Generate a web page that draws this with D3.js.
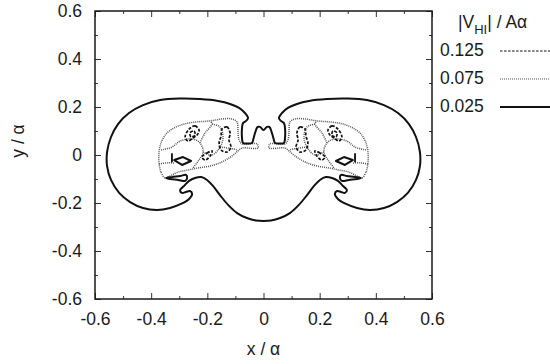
<!DOCTYPE html>
<html>
<head>
<meta charset="utf-8">
<script src="https://cdn.jsdelivr.net/npm/d3@7"></script>
<style>
body { margin: 0; background: #fff; }
svg { font-family: "Liberation Sans", Arial, sans-serif; }
</style>
</head>
<body>
<svg id="chart" width="550" height="364"></svg>
<script>
// axis ticks
var majorTicks = [-0.6, -0.4, -0.2, 0, 0.2, 0.4, 0.6];
var minorTicks = [-0.5, -0.3, -0.1, 0.1, 0.3, 0.5];

// legend levels |V_HI| / A alpha
var levelNames = ["0.125", "0.075", "0.025"];

// level 0.025 : outer contour (one closed curve round both lobes)
var outer025 = [
  [0, 0.104], [-0.0125, 0.117], [-0.021, 0.117], [-0.030, 0.092], [-0.037, 0.0625], [-0.041, 0.05],
  [-0.059, 0.048], [-0.073, 0.05], [-0.0765, 0.071], [-0.0765, 0.1125], [-0.073, 0.133], [-0.062, 0.142],
  [-0.055, 0.154], [-0.066, 0.175], [-0.087, 0.196], [-0.119, 0.2125], [-0.162, 0.225], [-0.226, 0.233],
  [-0.297, 0.235], [-0.368, 0.229], [-0.429, 0.208], [-0.479, 0.175], [-0.518, 0.129], [-0.543, 0.075],
  [-0.557, 0.0125], [-0.557, -0.046], [-0.543, -0.104], [-0.514, -0.158], [-0.475, -0.196], [-0.429, -0.221],
  [-0.379, -0.229], [-0.333, -0.221], [-0.294, -0.204], [-0.265, -0.183], [-0.254, -0.1625], [-0.262, -0.15],
  [-0.276, -0.154], [-0.290, -0.158], [-0.297, -0.146], [-0.283, -0.129], [-0.265, -0.108], [-0.244, -0.096],
  [-0.222, -0.092], [-0.201, -0.104], [-0.180, -0.129], [-0.155, -0.167], [-0.126, -0.208], [-0.094, -0.242],
  [-0.059, -0.2625], [-0.027, -0.273], [0, -0.275],
  [0.027, -0.273], [0.059, -0.2625], [0.094, -0.242], [0.126, -0.208], [0.155, -0.167], [0.180, -0.129],
  [0.201, -0.104], [0.222, -0.092], [0.244, -0.096], [0.265, -0.108], [0.283, -0.129], [0.297, -0.146],
  [0.290, -0.158], [0.276, -0.154], [0.262, -0.15], [0.254, -0.1625], [0.265, -0.183], [0.294, -0.204],
  [0.333, -0.221], [0.379, -0.229], [0.429, -0.221], [0.475, -0.196], [0.514, -0.158], [0.543, -0.104],
  [0.557, -0.046], [0.557, 0.0125], [0.543, 0.075], [0.518, 0.129], [0.479, 0.175], [0.429, 0.208],
  [0.368, 0.229], [0.297, 0.235], [0.226, 0.233], [0.162, 0.225], [0.119, 0.2125], [0.087, 0.196],
  [0.066, 0.175], [0.055, 0.154], [0.062, 0.142], [0.073, 0.133], [0.0765, 0.1125], [0.0765, 0.071],
  [0.073, 0.05], [0.059, 0.048], [0.041, 0.05], [0.037, 0.0625], [0.030, 0.092], [0.021, 0.117], [0.0125, 0.117]
];
// level 0.025 : small islands
var diamondL = [[-0.318, -0.021], [-0.2865, -0.0085], [-0.2580, -0.025], [-0.290, -0.0415]];
var diamondR = [[0.318, -0.021], [0.2865, -0.0085], [0.2580, -0.025], [0.290, -0.0415]];
var barL = [[-0.3275, 0.006], [-0.3245, 0.006], [-0.3245, -0.029], [-0.3275, -0.029]];
var barR = [[0.3275, 0.006], [0.3245, 0.006], [0.3245, -0.029], [0.3275, -0.029]];
var tearL = [[-0.347, -0.0958], [-0.3256, -0.0917], [-0.297, -0.0875], [-0.276, -0.0833],
  [-0.272, -0.0958], [-0.279, -0.108], [-0.304, -0.104], [-0.3327, -0.1]];
var tearR = [[0.347, -0.0958], [0.3256, -0.0917], [0.297, -0.0875], [0.276, -0.0833],
  [0.272, -0.0958], [0.279, -0.108], [0.304, -0.104], [0.3327, -0.1]];

// level 0.075 : closed rings
var ring075L = [
  [-0.3505, -0.096], [-0.365, -0.071], [-0.372, -0.033], [-0.372, 0.0125], [-0.365, 0.05], [-0.347, 0.0875],
  [-0.3185, 0.1125], [-0.283, 0.129], [-0.240, 0.1375], [-0.190, 0.142], [-0.148, 0.15], [-0.112, 0.15],
  [-0.094, 0.1375], [-0.091, 0.1], [-0.087, 0.0625], [-0.0765, 0.046], [-0.023, 0.046], [-0.0196, 0.029],
  [-0.0765, 0.029], [-0.091, 0.0167], [-0.112, -0.004], [-0.148, -0.029], [-0.190, -0.046], [-0.233, -0.054],
  [-0.269, -0.0625], [-0.304, -0.071], [-0.3327, -0.0875]
];
var ring075R = [
  [0.3505, -0.096], [0.365, -0.071], [0.372, -0.033], [0.372, 0.0125], [0.365, 0.05], [0.347, 0.0875],
  [0.3185, 0.1125], [0.283, 0.129], [0.240, 0.1375], [0.190, 0.142], [0.148, 0.15], [0.112, 0.15],
  [0.094, 0.1375], [0.091, 0.1], [0.087, 0.0625], [0.0765, 0.046], [0.023, 0.046], [0.0196, 0.029],
  [0.0765, 0.029], [0.091, 0.0167], [0.112, -0.004], [0.148, -0.029], [0.190, -0.046], [0.233, -0.054],
  [0.269, -0.0625], [0.304, -0.071], [0.3327, -0.0875]
];
// level 0.075 : open cell walls
var walls075L = [
  [[-0.365, 0.021], [-0.326, 0.033], [-0.297, 0.058], [-0.254, 0.067], [-0.226, 0.05], [-0.215, 0.0125], [-0.230, -0.021], [-0.251, -0.054]],
  [[-0.226, 0.05], [-0.208, 0.092], [-0.183, 0.129], [-0.190, 0.142]],
  [[-0.183, 0.129], [-0.155, 0.117], [-0.144, 0.075], [-0.155, 0.033], [-0.183, 0], [-0.215, 0.0125]],
  [[-0.155, 0.033], [-0.126, 0.029], [-0.091, 0.021]],
  [[-0.372, -0.0375], [-0.347, -0.033], [-0.319, -0.033]]
];
var walls075R = [
  [[0.365, 0.021], [0.326, 0.033], [0.297, 0.058], [0.254, 0.067], [0.226, 0.05], [0.215, 0.0125], [0.230, -0.021], [0.251, -0.054]],
  [[0.226, 0.05], [0.208, 0.092], [0.183, 0.129], [0.190, 0.142]],
  [[0.183, 0.129], [0.155, 0.117], [0.144, 0.075], [0.155, 0.033], [0.183, 0], [0.215, 0.0125]],
  [[0.155, 0.033], [0.126, 0.029], [0.091, 0.021]],
  [[0.372, -0.0375], [0.347, -0.033], [0.319, -0.033]]
];

// level 0.125 : small closed islands
var spots125 = [
  [[-0.265, 0.108], [-0.244, 0.121], [-0.2295, 0.104], [-0.2367, 0.083], [-0.251, 0.071], [-0.269, 0.058], [-0.279, 0.075]],
  [[-0.2616, 0.092], [-0.2473, 0.1], [-0.2438, 0.083], [-0.258, 0.075]],
  [[-0.148, 0.108], [-0.130, 0.117], [-0.119, 0.092], [-0.123, 0.0625], [-0.116, 0.033], [-0.130, 0.0125], [-0.151, 0.021], [-0.158, 0.05], [-0.151, 0.079]],
  [[-0.219, -0.008], [-0.201, 0.008], [-0.183, 0.017], [-0.190, -0.004], [-0.208, -0.021]],
  [[0.265, 0.108], [0.244, 0.121], [0.2295, 0.104], [0.2367, 0.083], [0.251, 0.071], [0.269, 0.058], [0.279, 0.075]],
  [[0.2616, 0.092], [0.2473, 0.1], [0.2438, 0.083], [0.258, 0.075]],
  [[0.148, 0.108], [0.130, 0.117], [0.119, 0.092], [0.123, 0.0625], [0.116, 0.033], [0.130, 0.0125], [0.151, 0.021], [0.158, 0.05], [0.151, 0.079]],
  [[0.219, -0.008], [0.201, 0.008], [0.183, 0.017], [0.190, -0.004], [0.208, -0.021]]
];

var svg = d3.select("#chart");
var plotLeft = 95, plotRight = 432, plotTop = 11, plotBottom = 299;

var x = d3.scaleLinear().domain([-0.6, 0.6]).range([plotLeft, plotRight]);
var y = d3.scaleLinear().domain([-0.6, 0.6]).range([plotBottom, plotTop]);

var styles = {
  "0.125": { stroke: "#111", width: 1.7, dash: "3,1.5" },
  "0.075": { stroke: "#555", width: 1.5, dash: "1,1" },
  "0.025": { stroke: "#111", width: 2, dash: null }
};

var smoothClosed = d3.line().x(function(d) { return x(d[0]); }).y(function(d) { return y(d[1]); })
  .curve(d3.curveCatmullRomClosed.alpha(0.5));
var smoothOpen = d3.line().x(function(d) { return x(d[0]); }).y(function(d) { return y(d[1]); })
  .curve(d3.curveCatmullRom.alpha(0.5));
var straightClosed = d3.line().x(function(d) { return x(d[0]); }).y(function(d) { return y(d[1]); })
  .curve(d3.curveLinearClosed);

function drawLevel(level, data, gen, w) {
  var s = styles[level];
  svg.append("path")
    .attr("d", gen(data))
    .attr("fill", "none")
    .attr("stroke", s.stroke)
    .attr("stroke-width", w || s.width)
    .attr("stroke-dasharray", s.dash)
    .attr("stroke-linejoin", "round");
}

// 0.075 first (under), then 0.125, then 0.025 on top
drawLevel("0.075", ring075L, smoothClosed);
drawLevel("0.075", ring075R, smoothClosed);
walls075L.forEach(function(w) { drawLevel("0.075", w, smoothOpen); });
walls075R.forEach(function(w) { drawLevel("0.075", w, smoothOpen); });
spots125.forEach(function(s) { drawLevel("0.125", s, smoothClosed); });
drawLevel("0.025", outer025, smoothClosed);
[diamondL, diamondR].forEach(function(s) { drawLevel("0.025", s, straightClosed); });
[barL, barR].forEach(function(s) { drawLevel("0.025", s, straightClosed, 1); });
drawLevel("0.025", tearL, smoothClosed);
drawLevel("0.025", tearR, smoothClosed);

// ticks on four sides, inward
function fmt(d) { return d === 0 ? "0" : String(d); }

svg.append("g").attr("transform", "translate(0," + plotBottom + ")")
  .call(d3.axisBottom(x).tickValues(majorTicks).tickSize(-6).tickPadding(14).tickFormat(fmt));
svg.append("g").attr("transform", "translate(0," + plotBottom + ")")
  .call(d3.axisBottom(x).tickValues(minorTicks).tickSize(-3).tickFormat(""));
svg.append("g").attr("transform", "translate(0," + plotTop + ")")
  .call(d3.axisTop(x).tickValues(majorTicks).tickSize(-6).tickFormat(""));
svg.append("g").attr("transform", "translate(0," + plotTop + ")")
  .call(d3.axisTop(x).tickValues(minorTicks).tickSize(-3).tickFormat(""));
svg.append("g").attr("transform", "translate(" + plotLeft + ",0)")
  .call(d3.axisLeft(y).tickValues(majorTicks).tickSize(-6).tickPadding(13).tickFormat(fmt));
svg.append("g").attr("transform", "translate(" + plotLeft + ",0)")
  .call(d3.axisLeft(y).tickValues(minorTicks).tickSize(-3).tickFormat(""));
svg.append("g").attr("transform", "translate(" + plotRight + ",0)")
  .call(d3.axisRight(y).tickValues(majorTicks).tickSize(-6).tickFormat(""));
svg.append("g").attr("transform", "translate(" + plotRight + ",0)")
  .call(d3.axisRight(y).tickValues(minorTicks).tickSize(-3).tickFormat(""));

svg.selectAll(".domain").remove();
svg.selectAll(".tick line").attr("stroke", "#333").attr("stroke-width", 1);
svg.selectAll(".tick text").attr("font-size", 17.5).attr("fill", "#1a1a1a")
  .attr("font-family", "Liberation Sans, Arial, sans-serif");

svg.append("rect")
  .attr("x", plotLeft).attr("y", plotTop)
  .attr("width", plotRight - plotLeft).attr("height", plotBottom - plotTop)
  .attr("fill", "none").attr("stroke", "#1a1a1a").attr("stroke-width", 1.5);

// axis titles
svg.append("text")
  .attr("x", (plotLeft + plotRight) / 2).attr("y", 355)
  .attr("text-anchor", "middle").attr("font-size", 17.5).attr("fill", "#1a1a1a")
  .text("x / \u03b1");
svg.append("text")
  .attr("transform", "translate(24,141) rotate(-90)")
  .attr("text-anchor", "middle").attr("font-size", 17.5).attr("fill", "#1a1a1a")
  .text("y / \u03b1");

// legend
var title = svg.append("text").attr("x", 458).attr("y", 28)
  .attr("font-size", 17.5).attr("fill", "#1a1a1a");
title.append("tspan").text("|V");
title.append("tspan").attr("dy", 6).attr("font-size", 13).text("HI");
title.append("tspan").attr("dy", -6).text("| / A\u03b1");

var legendY = [51, 79, 107];
levelNames.forEach(function(name, i) {
  var s = styles[name];
  svg.append("text")
    .attr("x", 440).attr("y", legendY[i] + 5)
    .attr("font-size", 17.5).attr("fill", "#1a1a1a")
    .text(name);
  svg.append("line")
    .attr("x1", 500).attr("x2", 550)
    .attr("y1", legendY[i]).attr("y2", legendY[i])
    .attr("stroke", s.stroke)
    .attr("stroke-width", name === "0.025" ? 2 : 1.2)
    .attr("stroke-dasharray", name === "0.125" ? "2.5,1.5" : s.dash);
});
</script>
</body>
</html>
